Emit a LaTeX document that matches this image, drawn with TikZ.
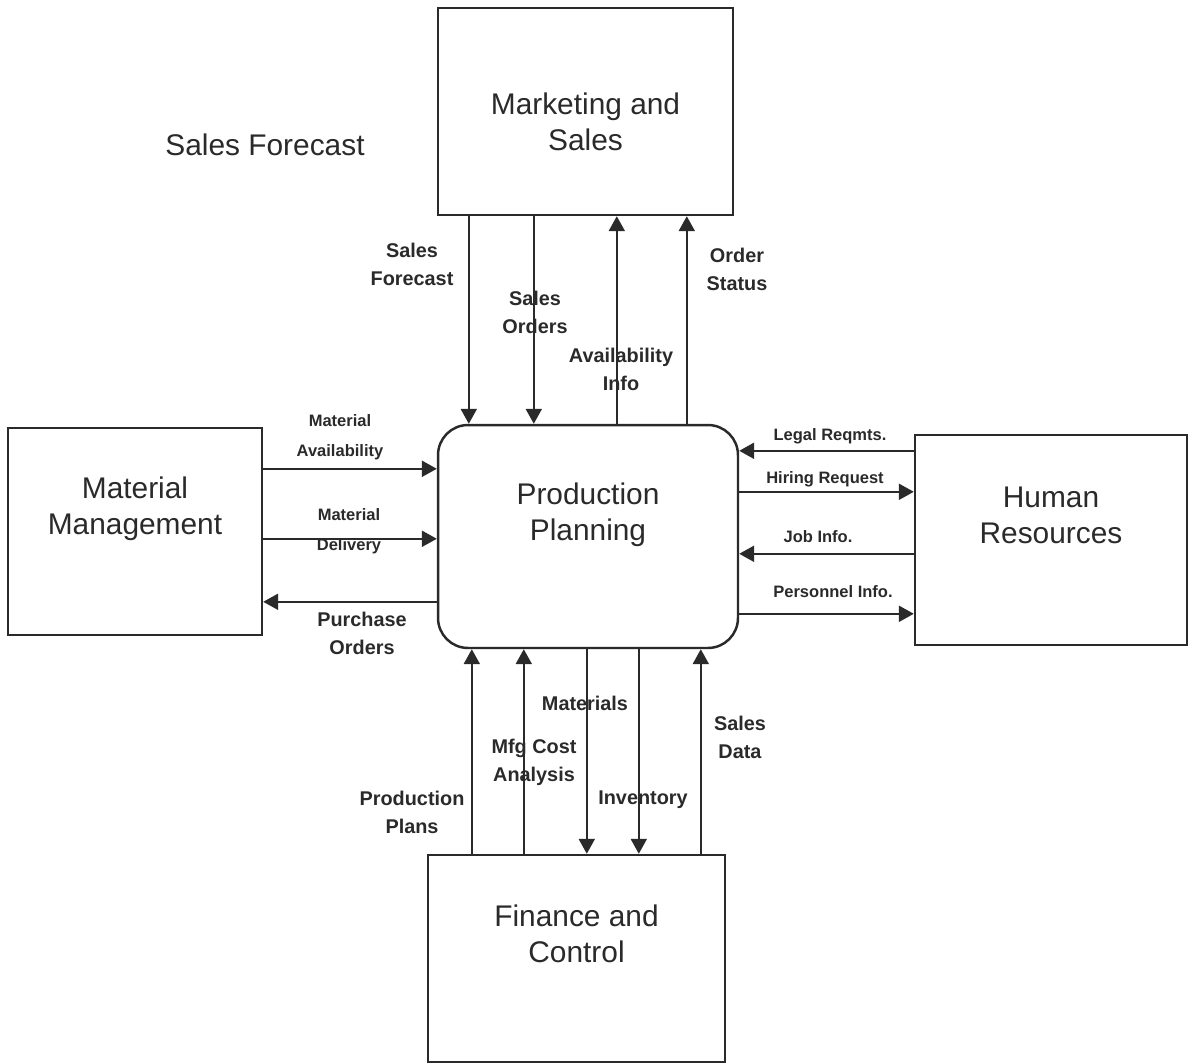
\documentclass[tikz,border=0pt]{standalone}
\usepackage{fontspec}
\setmainfont{Liberation Sans}
\usetikzlibrary{arrows.meta,calc}
\definecolor{ink}{HTML}{2A2A2A}

\tikzset{
	box/.style={draw=ink, line width=1.4pt, inner sep=0pt},
	flow/.style={draw=ink, line width=1.25pt, -{Triangle[length=0.3cm,width=0.32cm]}},
	boxtxt/.style={text=ink, align=center, font=\fontsize{17}{20.5}\selectfont},
	lbl/.style={text=ink, align=center, font=\bfseries\fontsize{11.3}{16}\selectfont},
	smalllbl/.style={text=ink, align=center, font=\bfseries\fontsize{9.4}{17}\selectfont},
}

\begin{document}
\begin{tikzpicture}[x=0.02cm, y=-0.02cm]
	
	\useasboundingbox (0,0) rectangle (1193,1064);
	
	% the five units
	\node[box, minimum width=5.9cm, minimum height=4.14cm, label={[boxtxt, yshift=-0.2cm]center:{Marketing and\\Sales}}] (mkt) at (585.5,111.5) {};
	\node[box, minimum width=5.08cm, minimum height=4.14cm, label={[boxtxt, yshift=0.46cm]center:{Material\\Management}}] (mm) at (135,531.5) {};
	\node[box, rounded corners=0.6cm, minimum width=6cm, minimum height=4.46cm, label={[boxtxt, yshift=0.44cm]center:{Production\\Planning}}] (pp) at (588,536.5) {};
	\node[box, minimum width=5.44cm, minimum height=4.2cm, label={[boxtxt, yshift=0.5cm]center:{Human\\Resources}}] (hr) at (1051,540) {};
	\node[box, minimum width=5.94cm, minimum height=4.14cm, label={[boxtxt, yshift=0.5cm]center:{Finance and\\Control}}] (fc) at (576.5,958.5) {};
	
	\node[boxtxt] (stray) at (265,145) {Sales Forecast};
	
	% marketing <-> planning
	\draw[flow] ($(mkt.south west)+(32,0)$) coordinate (t1) -- (t1 |- pp.north);
	\draw[flow] ($(mkt.south west)+(97,0)$) coordinate (t2) -- (t2 |- pp.north);
	\draw[flow] ($(pp.north west)+(180,0)$) coordinate (t3) -- (t3 |- mkt.south);
	\draw[flow] ($(pp.north west)+(250,0)$) coordinate (t4) -- (t4 |- mkt.south);
	
	\node[lbl] (sfc) at (412,264) {Sales\\Forecast};
	\node[lbl] (sor) at (535,312) {Sales\\Orders};
	\node[lbl] (avi) at (621,369) {Availability\\Info};
	\node[lbl] (ost) at (737,269) {Order\\Status};
	
	% material management <-> planning
	\draw[flow] ($(mm.north east)+(0,42)$) coordinate (l1) -- (l1 -| pp.west);
	\draw[flow] ($(mm.north east)+(0,112)$) coordinate (l2) -- (l2 -| pp.west);
	\draw[flow] ($(pp.north west)+(0,178)$) coordinate (l3) -- (l3 -| mm.east);
	
	\node[smalllbl] (mav) at (340,437) {Material\\Availability};
	\node[smalllbl] (mdl) at (349,531) {Material\\Delivery};
	\node[lbl] (por) at (362,633) {Purchase\\Orders};
	
	% human resources <-> planning
	\draw[flow] ($(hr.north west)+(0,17)$) coordinate (r1) -- (r1 -| pp.east);
	\draw[flow] ($(pp.north east)+(0,68)$) coordinate (r2) -- (r2 -| hr.west);
	\draw[flow] ($(hr.north west)+(0,120)$) coordinate (r3) -- (r3 -| pp.east);
	\draw[flow] ($(pp.north east)+(0,190)$) coordinate (r4) -- (r4 -| hr.west);
	
	\node[smalllbl] (lgl) at (830,436) {Legal Reqmts.};
	\node[smalllbl] (hir) at (825,479) {Hiring Request};
	\node[smalllbl] (job) at (818,537) {Job Info.};
	\node[smalllbl] (per) at (833,592) {Personnel Info.};
	
	% finance <-> planning
	\draw[flow] ($(fc.north west)+(45,0)$) coordinate (b1) -- (b1 |- pp.south);
	\draw[flow] ($(fc.north west)+(97,0)$) coordinate (b2) -- (b2 |- pp.south);
	\draw[flow] ($(pp.south west)+(150,0)$) coordinate (b3) -- (b3 |- fc.north);
	\draw[flow] ($(pp.south west)+(202,0)$) coordinate (b4) -- (b4 |- fc.north);
	\draw[flow] ($(fc.north west)+(274,0)$) coordinate (b5) -- (b5 |- pp.south);
	
	\node[lbl] (ppl) at (412,812) {Production\\Plans};
	\node[lbl] (mca) at (534,762) {Mfg Cost\\Analysis};
	\node[lbl] (mat) at (585,703) {Materials};
	\node[lbl] (inv) at (643,800) {Inventory};
	\node[lbl] (sda) at (740,737) {Sales\\Data};
	
\end{tikzpicture}
\end{document}
